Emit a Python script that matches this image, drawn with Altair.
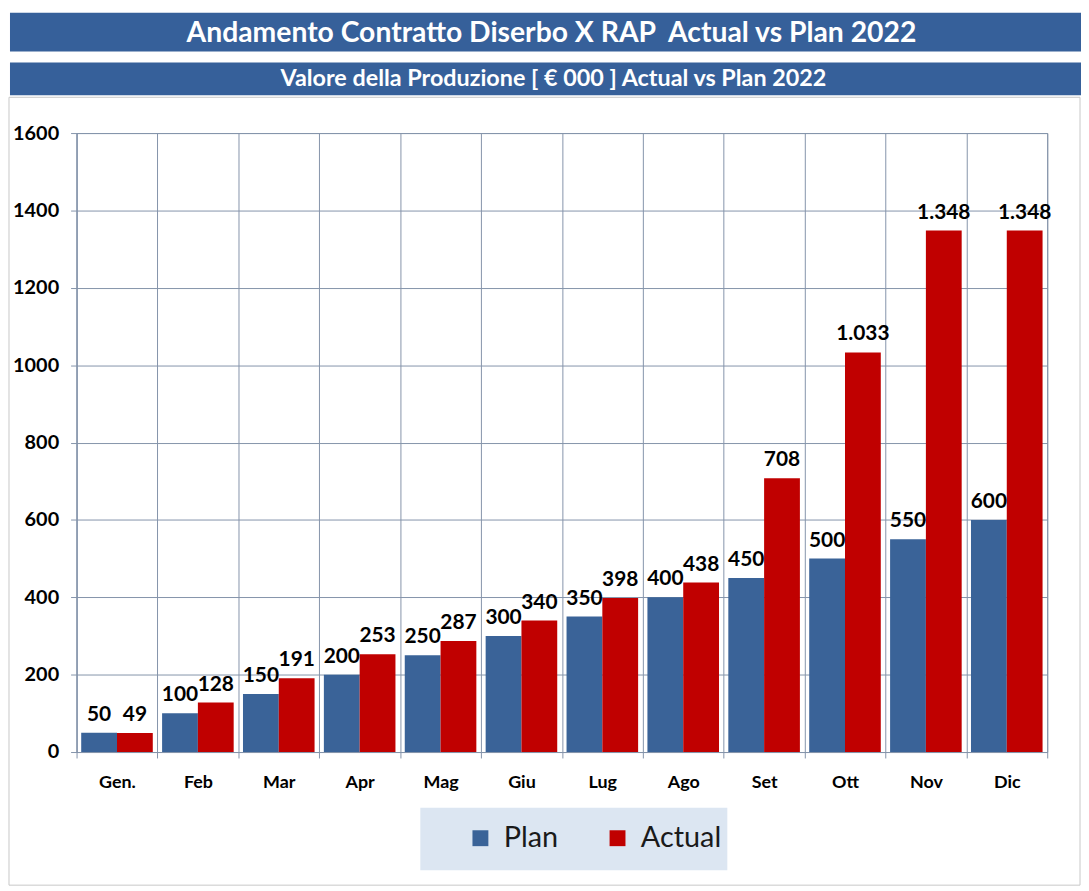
import altair as alt
import pandas as pd

months = ["Gen.", "Feb", "Mar", "Apr", "Mag", "Giu", "Lug", "Ago", "Set", "Ott", "Nov", "Dic"]
plan = [50, 100, 150, 200, 250, 300, 350, 400, 450, 500, 550, 600]
actual = [49, 128, 191, 253, 287, 340, 398, 438, 708, 1033, 1348, 1348]
series = ["Plan", "Actual"]
colors = ["#3A6398", "#C00000"]
y_ticks = [0, 200, 400, 600, 800, 1000, 1200, 1400, 1600]
title_text = "Andamento Contratto Diserbo X RAP\u00a0 Actual vs Plan 2022"
subtitle_text = "Valore della Produzione [ € 000 ] Actual vs Plan 2022"


def it_fmt(v):
    return f"{v:,}".replace(",", ".")


rows = []
for m, p, a in zip(months, plan, actual):
    rows.append({"Mese": m, "Serie": "Plan", "Valore": p, "Etichetta": it_fmt(p)})
    rows.append({"Mese": m, "Serie": "Actual", "Valore": a, "Etichetta": it_fmt(a)})
df = pd.DataFrame(rows)

FONT = "Lato"
GRID = "#8594AA"
BANNER = "#36609A"
W, H = 977, 623

x_enc = alt.X(
    "Mese:N", sort=months,
    scale=alt.Scale(paddingInner=0, paddingOuter=0),
    axis=alt.Axis(title=None, labelAngle=0, labelFont=FONT, labelFontSize=18,
                  labelFontWeight="bold", labelColor="black", labelPadding=16,
                  tickBand="extent", grid=True, gridColor=GRID, tickColor=GRID,
                  tickSize=6, domainColor=GRID),
)
xoff_enc = alt.XOffset("Serie:N", sort=series,
                       scale=alt.Scale(paddingInner=0, paddingOuter=0.13))
y_enc = alt.Y(
    "Valore:Q",
    scale=alt.Scale(domain=[0, 1600], nice=False),
    axis=alt.Axis(title=None, values=y_ticks, format="d", labelFont=FONT,
                  labelFontSize=20, labelFontWeight="bold", labelColor="black",
                  labelPadding=12, grid=True, gridColor=GRID, tickColor=GRID,
                  tickSize=6, domainColor=GRID, minExtent=67),
)

base = alt.Chart(df)

bars = base.mark_bar().encode(
    x=x_enc,
    xOffset=xoff_enc,
    y=y_enc,
    color=alt.Color(
        "Serie:N",
        scale=alt.Scale(domain=series, range=colors),
        legend=alt.Legend(
            title=None, orient="none", legendX=392, legendY=695,
            direction="horizontal", padding=0,
            symbolType="square", symbolSize=256, symbolStrokeWidth=0,
            labelFont=FONT, labelFontSize=29, labelColor="#1a1a1a",
            columnPadding=45, labelOffset=9,
        ),
    ),
)

labels = base.mark_text(
    baseline="alphabetic", dy=-12, font=FONT, fontSize=21,
    fontWeight="bold", color="black",
).encode(x=x_enc, xOffset=xoff_enc, y=y_enc, text="Etichetta:N")

# decorative banners, frame and legend box (pixel layout, not data)
banner_df = pd.DataFrame({"t": [title_text]})
sub_df = pd.DataFrame({"t": [subtitle_text]})
deco_df = pd.DataFrame({"k": ["box"]})

frame = alt.Chart(deco_df).mark_rect(
    filled=False, stroke="#C8C8C8", strokeWidth=1
).encode(
    x=alt.value(-68), x2=alt.value(1010), y=alt.value(-36), y2=alt.value(757)
)
banner1 = alt.Chart(banner_df).mark_rect(color=BANNER).encode(
    x=alt.value(-67), x2=alt.value(1011), y=alt.value(-121), y2=alt.value(-82)
)
banner1_t = alt.Chart(banner_df).mark_text(
    font=FONT, fontSize=28.5, fontWeight="bold", color="white",
    baseline="middle", align="center",
).encode(text="t:N", x=alt.value(478), y=alt.value(-101))
banner2 = alt.Chart(sub_df).mark_rect(color=BANNER).encode(
    x=alt.value(-67), x2=alt.value(1011), y=alt.value(-71), y2=alt.value(-38)
)
banner2_t = alt.Chart(sub_df).mark_text(
    font=FONT, fontSize=23.5, fontWeight="bold", color="white",
    baseline="middle", align="center",
).encode(text="t:N", x=alt.value(480), y=alt.value(-54))
legend_box = alt.Chart(deco_df).mark_rect(color="#DCE6F2").encode(
    x=alt.value(346), x2=alt.value(655), y=alt.value(679), y2=alt.value(742)
)

chart = alt.layer(
    frame, banner1, banner1_t, banner2, banner2_t, legend_box, bars, labels
).properties(
    width=W, height=H,
    view=alt.ViewBackground(stroke=GRID),
    padding={"left": 0, "top": 2, "right": 0, "bottom": 0},
    background="white",
)

chart.save("out.html", embed_options={"renderer": "svg", "actions": False})
